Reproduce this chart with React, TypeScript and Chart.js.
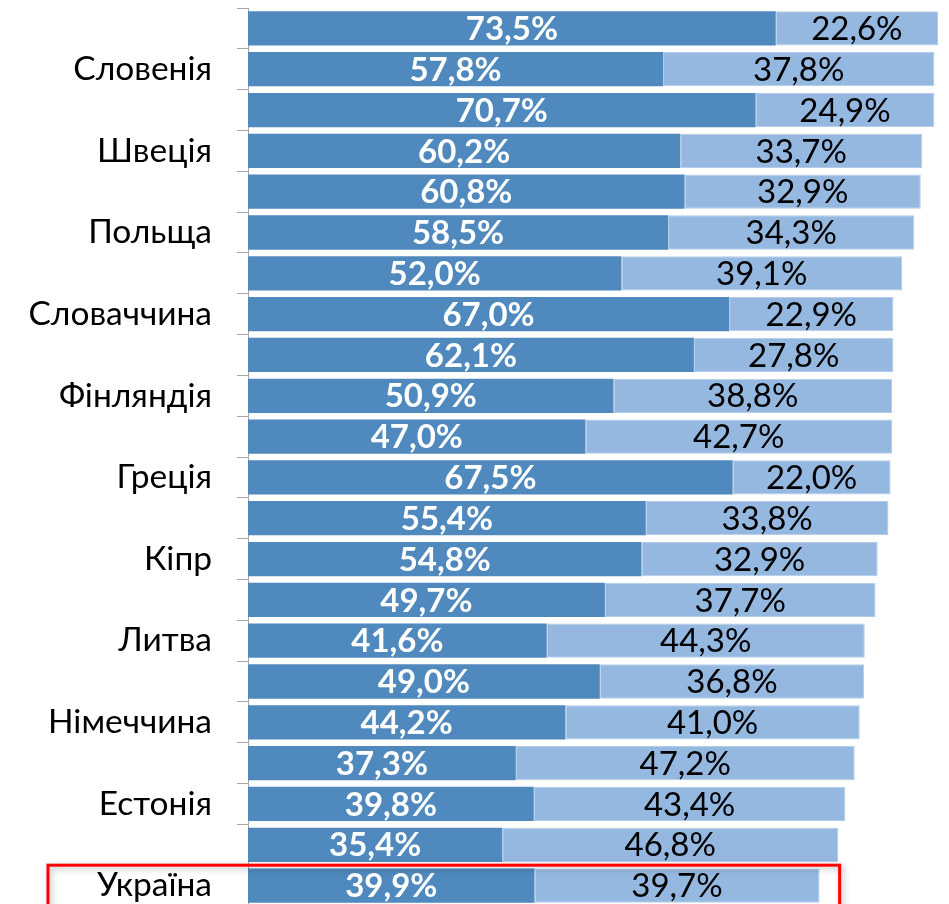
import React, { useEffect, useRef } from "react";
import { Chart, registerables } from "chart.js";

Chart.register(...registerables);

const categories: string[] = [
  "", "Словенія", "", "Швеція", "", "Польща", "", "Словаччина", "", "Фінляндія", "",
  "Греція", "", "Кіпр", "", "Литва", "", "Німеччина", "", "Естонія", "", "Україна",
];

const darkValues: number[] = [
  73.5, 57.8, 70.7, 60.2, 60.8, 58.5, 52.0, 67.0, 62.1, 50.9, 47.0,
  67.5, 55.4, 54.8, 49.7, 41.6, 49.0, 44.2, 37.3, 39.8, 35.4, 39.9,
];

const lightValues: number[] = [
  22.6, 37.8, 24.9, 33.7, 32.9, 34.3, 39.1, 22.9, 27.8, 38.8, 42.7,
  22.0, 33.8, 32.9, 37.7, 44.3, 36.8, 41.0, 47.2, 43.4, 46.8, 39.7,
];

const highlightIndex = 21;
const highlightRight = 82.4;

const fmt = (v: number) => v.toFixed(1).replace(".", ",") + "%";

const FONT = "Lato, 'Noto Sans', sans-serif";

export default function App() {
  const ref = useRef<HTMLCanvasElement | null>(null);

  useEffect(() => {
    if (!ref.current) return;

    const labelPlugin = {
      id: "barLabels",
      afterDatasetsDraw(chart: any) {
        const ctx = chart.ctx;
        ctx.save();
        ctx.textAlign = "center";
        ctx.textBaseline = "middle";
        chart.data.datasets.forEach((ds: any, di: number) => {
          const meta = chart.getDatasetMeta(di);
          meta.data.forEach((el: any, i: number) => {
            const cx = (el.x + el.base) / 2;
            const cy = el.y + 1;
            if (di === 0) {
              ctx.font = `bold 33px ${FONT}`;
              ctx.fillStyle = "#FFFFFF";
            } else {
              ctx.font = `33px ${FONT}`;
              ctx.fillStyle = "#000000";
            }
            ctx.fillText(fmt(ds.data[i]), cx, cy);
          });
        });
        ctx.restore();
      },
    };

    const highlightPlugin = {
      id: "highlight",
      afterDraw(chart: any) {
        const ctx = chart.ctx;
        const y = chart.scales.y;
        const x = chart.scales.x;
        const pitch = y.getPixelForValue(1) - y.getPixelForValue(0);
        const top = y.getPixelForValue(highlightIndex) - pitch / 2;
        const left = chart.chartArea.left - 200;
        const right = x.getPixelForValue(highlightRight);
        ctx.save();
        ctx.shadowColor = "rgba(0,0,0,0.3)";
        ctx.shadowBlur = 6;
        ctx.shadowOffsetX = 2;
        ctx.shadowOffsetY = 2;
        ctx.strokeStyle = "#FF0000";
        ctx.lineWidth = 3;
        ctx.strokeRect(left, top, right - left, chart.height - top + 20);
        ctx.restore();
      },
    };

    const chart = new Chart(ref.current, {
      type: "bar",
      data: {
        labels: categories,
        datasets: [
          {
            data: darkValues,
            backgroundColor: "#4F89BD",
            barPercentage: 0.84,
            categoryPercentage: 1,
          },
          {
            data: lightValues,
            backgroundColor: "#95B8E0",
            borderColor: "#B4CCEA",
            borderWidth: 1,
            borderSkipped: false,
            barPercentage: 0.84,
            categoryPercentage: 1,
          },
        ],
      },
      options: {
        indexAxis: "y",
        responsive: false,
        animation: false,
        devicePixelRatio: 1,
        layout: { padding: { top: 8, left: 0, right: 0, bottom: 0 } },
        plugins: {
          legend: { display: false },
          tooltip: { enabled: false },
        },
        scales: {
          x: {
            stacked: true,
            min: 0,
            max: 97.63,
            display: false,
          },
          y: {
            stacked: true,
            afterFit: (scale: any) => {
              scale.width = 248;
              scale.paddingTop = 0;
              scale.paddingBottom = 0;
            },
            grid: {
              display: true,
              drawOnChartArea: false,
              drawTicks: true,
              tickLength: 11,
              color: "#A6A6A6",
              offset: true,
            },
            border: { display: true, color: "#A6A6A6", width: 1 },
            ticks: {
              autoSkip: false,
              padding: 25,
              color: "#000000",
              font: { family: FONT, size: 33.5 },
            },
          },
        },
      },
      plugins: [labelPlugin, highlightPlugin],
    } as any);

    return () => chart.destroy();
  }, []);

  return (
    <div
      style={{
        position: "fixed",
        left: 0,
        top: 0,
        width: 949,
        height: 904,
        overflow: "hidden",
        background: "#FFFFFF",
      }}
    >
      <canvas ref={ref} width={949} height={906} style={{ display: "block" }} />
    </div>
  );
}
